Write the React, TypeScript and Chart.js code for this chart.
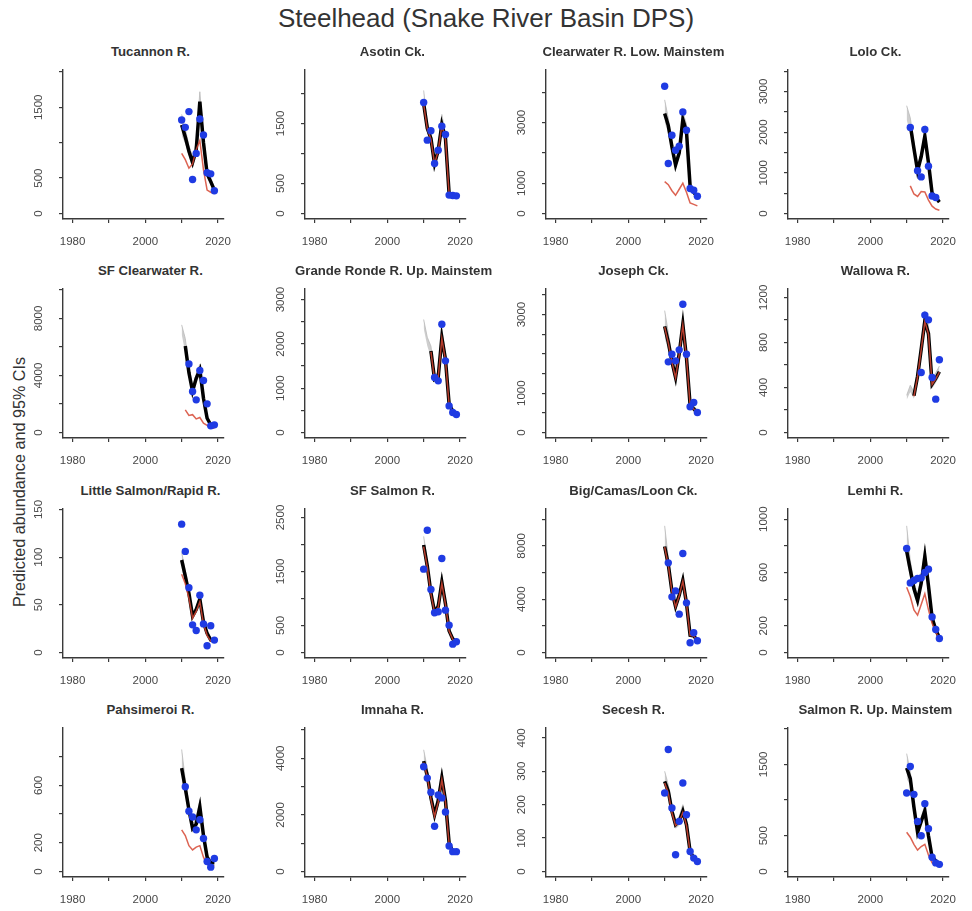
import React, { useEffect, useRef } from 'react';
import { Chart, registerables } from 'chart.js';

Chart.register(...registerables);

const FONT = '"Liberation Sans", Arial, Helvetica, sans-serif';

// Shared x axis (return years)
const YEARS = [2010, 2011, 2012, 2013, 2014, 2015, 2016, 2017, 2018, 2019];
const X_TICKS = [1980, 1990, 2000, 2010, 2020];
const X_LABELS = ['1980', '', '2000', '', '2020'];
const X_MIN = 1977.36;
const X_MAX = 2021.64;

// ---- Tucannon R.
const TUC_YTICKS = [0, 500, 1000, 1500, 2000];
const TUC_YLABELS = ['0', '500', '', '1500', ''];
const TUC_OBS = [1321, 1217, 1439, 481, 849, 1335, 1108, 575, 560, 321];
const TUC_FIT = [1250, 1080, 880, 720, 900, 1580, 1000, 560, 450, 330];
const TUC_LO = [1100, 980, 800, 640, 800, 1400, 900, 500, 400, 290];
const TUC_HI = [1400, 1200, 960, 800, 1000, 1720, 1100, 620, 500, 370];
const TUC_RED = [850, 760, 640, 700, 900, 1030, 620, 330, 300, 280];

// ---- Asotin Ck.
const ASO_YTICKS = [0, 500, 1000, 1500, 2000];
const ASO_YLABELS = ['0', '500', '', '1500', ''];
const ASO_OBS = [1850, 1222, 1378, 833, 1055, 1455, 1317, 306, 300, 294];
const ASO_FIT = [1830, 1420, 1250, 830, 1050, 1480, 1250, 330, 310, 300];
const ASO_LO = [1680, 1330, 1170, 770, 980, 1380, 1170, 300, 285, 275];
const ASO_HI = [2050, 1520, 1330, 900, 1120, 1650, 1330, 360, 335, 325];
const ASO_RED = [1820, 1410, 1240, 825, 1045, 1470, 1240, 325, 305, 295];

// ---- Clearwater R. Low. Mainstem
const CLW_YTICKS = [0, 1000, 2000, 3000, 4000];
const CLW_YLABELS = ['0', '1000', '', '3000', ''];
const CLW_OBS = [4198, 1648, 2582, 2088, 2220, 3352, 2747, 824, 769, 571];
const CLW_FIT = [3300, 2900, 2200, 1600, 2000, 3100, 2700, 900, 700, 550];
const CLW_LO = [3000, 2650, 2000, 1450, 1850, 2850, 2450, 800, 620, 480];
const CLW_HI = [3750, 3150, 2400, 1750, 2150, 3350, 2950, 1000, 780, 620];
const CLW_RED = [1050, 950, 750, 600, 800, 1000, 700, 350, 300, 250];

// ---- Lolo Ck.
const LOL_YTICKS = [0, 500, 1000, 1500, 2000, 2500, 3000, 3500];
const LOL_YLABELS = ['0', '', '1000', '', '2000', '', '3000', ''];
const LOL_OBS = [null, 2115, null, 1050, 900, 2065, 1164, 430, 393, null];
const LOL_FIT = [null, 2170, 1600, 1050, 1400, 1900, 1250, 500, 400, 280];
const LOL_LO = [2300, 2000, 1450, 950, 1300, 1750, 1150, 450, 360, 250];
const LOL_HI = [2650, 2350, 1750, 1150, 1500, 2050, 1350, 560, 450, 320];
const LOL_RED = [null, 680, 480, 420, 540, 530, 330, 180, 110, 80];

// ---- SF Clearwater R.
const SFC_YTICKS = [0, 2000, 4000, 6000, 8000, 10000];
const SFC_YLABELS = ['0', '', '4000', '', '8000', ''];
const SFC_OBS = [null, null, 4813, 2874, 2290, 4346, 3645, 2009, 467, 537];
const SFC_FIT = [null, 6075, 4200, 2900, 3800, 4400, 2400, 1000, 540, 520];
const SFC_LO = [6900, 5600, 3800, 2600, 3500, 4000, 2100, 850, 450, 430];
const SFC_HI = [7550, 6600, 4600, 3200, 4100, 4800, 2700, 1200, 650, 620];
const SFC_RED = [null, 1590, 1200, 1250, 950, 1050, 650, 500, 300, 300];

// ---- Grande Ronde R. Up. Mainstem
const GRU_YTICKS = [0, 500, 1000, 1500, 2000, 2500, 3000];
const GRU_YLABELS = ['0', '', '1000', '', '2000', '', '3000'];
const GRU_OBS = [null, null, null, 1240, 1165, 2444, 1617, 600, 451, 406];
const GRU_FIT = [null, null, 1840, 1200, 1250, 2140, 1650, 640, 480, 410];
const GRU_LO = [2350, 1950, 1700, 1120, 1170, 1950, 1530, 570, 420, 360];
const GRU_HI = [2550, 2150, 1950, 1300, 1350, 2350, 1770, 700, 540, 460];
const GRU_RED = [null, null, 1820, 1190, 1240, 2120, 1630, 630, 470, 400];

// ---- Joseph Ck.
const JOS_YTICKS = [0, 500, 1000, 1500, 2000, 2500, 3000, 3500];
const JOS_YLABELS = ['0', '', '1000', '', '', '', '3000', ''];
const JOS_OBS = [null, 1797, 1992, 1822, 2102, 3263, 1992, 653, 763, 508];
const JOS_FIT = [2700, 2300, 1800, 1400, 2000, 2750, 1900, 700, 600, 500];
const JOS_LO = [2400, 2100, 1650, 1250, 1850, 2550, 1750, 630, 530, 440];
const JOS_HI = [3100, 2550, 1950, 1550, 2150, 2950, 2050, 780, 680, 570];
const JOS_RED = [2680, 2280, 1790, 1390, 1990, 2730, 1890, 695, 595, 495];

// ---- Wallowa R.
const WAL_YTICKS = [0, 200, 400, 600, 800, 1000, 1200];
const WAL_YLABELS = ['0', '', '400', '', '800', '', '1200'];
const WAL_OBS = [null, null, null, null, 533, 1043, 1001, 489, 296, 646];
const WAL_FIT = [null, null, 326, 500, 740, 990, 880, 430, 480, 540];
const WAL_LO = [290, 360, 300, 460, 690, 920, 820, 390, 440, 500];
const WAL_HI = [330, 420, 360, 550, 800, 1080, 950, 480, 530, 590];
const WAL_RED = [null, null, 322, 495, 735, 985, 875, 427, 476, 536];

// ---- Little Salmon/Rapid R.
const LSR_YTICKS = [0, 50, 100, 150];
const LSR_YLABELS = ['0', '50', '100', '150'];
const LSR_OBS = [134.6, 106, 68, 29, 23, 60, 30, 7, 28, 13];
const LSR_FIT = [97, 80, 62, 38, 45, 56, 32, 20, 13, 12];
const LSR_LO = [88, 73, 57, 35, 42, 52, 29, 18, 11, 10];
const LSR_HI = [105, 86, 66, 41, 48, 60, 35, 22, 15, 14];
const LSR_RED = [82, 72, 57, 36, 43, 53, 30, 18, 12, 12];

// ---- SF Salmon R.
const SFS_YTICKS = [0, 500, 1000, 1500, 2000, 2500];
const SFS_YLABELS = ['0', '500', '', '1500', '', '2500'];
const SFS_OBS = [1543, 2265, 1167, 735, 753, 1741, 784, 506, 154, 198];
const SFS_FIT = [1990, 1600, 1100, 750, 850, 1300, 900, 400, 250, 200];
const SFS_LO = [1850, 1500, 1030, 700, 790, 1180, 830, 360, 215, 170];
const SFS_HI = [2150, 1700, 1180, 810, 920, 1450, 970, 450, 290, 235];
const SFS_RED = [1960, 1580, 1085, 740, 840, 1280, 890, 395, 245, 198];

// ---- Big/Camas/Loon Ck.
const BCL_YTICKS = [0, 2000, 4000, 6000, 8000, 10000];
const BCL_YLABELS = ['0', '', '4000', '', '8000', ''];
const BCL_OBS = [null, 6725, 4175, 4625, 2875, 7425, 3725, 725, 1475, 875];
const BCL_FIT = [7950, 6600, 4600, 3450, 4300, 5400, 3700, 1300, 1250, 900];
const BCL_LO = [7200, 6100, 4300, 3200, 4000, 5000, 3400, 1150, 1100, 780];
const BCL_HI = [9500, 7100, 4900, 3700, 4600, 5800, 4000, 1500, 1400, 1020];
const BCL_RED = [7900, 6550, 4560, 3420, 4260, 5350, 3660, 1280, 1230, 890];

// ---- Lemhi R.
const LEM_YTICKS = [0, 200, 400, 600, 800, 1000];
const LEM_YLABELS = ['0', '200', '', '600', '', '1000'];
const LEM_OBS = [780, 522, 540, 555, 560, 600, 625, 267, 172, 105];
const LEM_FIT = [760, 620, 480, 390, 520, 720, 500, 260, 170, 110];
const LEM_LO = [680, 560, 430, 350, 470, 650, 450, 230, 150, 95];
const LEM_HI = [950, 690, 530, 430, 570, 800, 550, 290, 190, 130];
const LEM_RED = [490, 420, 320, 280, 360, 440, 320, 220, 150, 110];

// ---- Pahsimeroi R.
const PAH_YTICKS = [0, 200, 400, 600, 800];
const PAH_YLABELS = ['0', '200', '', '600', ''];
const PAH_OBS = [null, 590, 420, 380, 290, 360, 230, 70, 30, 90];
const PAH_FIT = [720, 580, 430, 300, 330, 450, 250, 100, 60, 60];
const PAH_LO = [640, 530, 390, 270, 300, 410, 220, 85, 50, 50];
const PAH_HI = [850, 640, 470, 330, 370, 500, 280, 120, 75, 75];
const PAH_RED = [290, 250, 180, 150, 170, 180, 100, 50, 40, 40];

// ---- Imnaha R.
const IMN_YTICKS = [0, 1000, 2000, 3000, 4000, 5000];
const IMN_YLABELS = ['0', '', '2000', '', '4000', ''];
const IMN_OBS = [3700, 3300, 2800, 1600, 2700, 2600, 2100, 900, 700, 700];
const IMN_FIT = [3900, 3400, 2600, 2000, 2500, 3300, 2500, 1000, 700, 700];
const IMN_LO = [3550, 3150, 2400, 1850, 2300, 3050, 2300, 900, 630, 630];
const IMN_HI = [4300, 3650, 2800, 2150, 2700, 3600, 2700, 1100, 780, 780];
const IMN_RED = [3850, 3350, 2550, 1950, 2450, 3250, 2450, 980, 690, 690];

// ---- Secesh R.
const SEC_YTICKS = [0, 100, 200, 300, 400];
const SEC_YLABELS = ['0', '100', '200', '300', '400'];
const SEC_OBS = [235, 365, 190, 50, 150, 265, 170, 60, 40, 30];
const SEC_FIT = [270, 240, 180, 140, 150, 180, 140, 60, 40, 30];
const SEC_LO = [245, 220, 165, 128, 137, 165, 128, 53, 35, 26];
const SEC_HI = [300, 260, 195, 152, 165, 200, 155, 68, 46, 35];
const SEC_RED = [265, 235, 175, 138, 148, 177, 138, 58, 39, 29];

// ---- Salmon R. Up. Mainstem
const SUM_YTICKS = [0, 500, 1000, 1500, 2000];
const SUM_YLABELS = ['0', '500', '', '1500', ''];
const SUM_OBS = [1100, 1470, 1080, 700, 500, 950, 600, 200, 120, 100];
const SUM_FIT = [1450, 1300, 900, 550, 700, 850, 500, 200, 150, 110];
const SUM_LO = [1300, 1200, 840, 510, 650, 790, 460, 180, 135, 100];
const SUM_HI = [1650, 1400, 970, 600, 760, 930, 550, 230, 170, 125];
const SUM_RED = [550, 480, 380, 300, 350, 380, 230, 120, 100, 100];

const PANELS = [
  { title: 'Tucannon R.', yMax: 1949, yTicks: TUC_YTICKS, yLabels: TUC_YLABELS, obs: TUC_OBS, fit: TUC_FIT, lo: TUC_LO, hi: TUC_HI, red: TUC_RED },
  { title: 'Asotin Ck.', yMax: 2299, yTicks: ASO_YTICKS, yLabels: ASO_YLABELS, obs: ASO_OBS, fit: ASO_FIT, lo: ASO_LO, hi: ASO_HI, red: ASO_RED },
  { title: 'Clearwater R. Low. Mainstem', yMax: 4553, yTicks: CLW_YTICKS, yLabels: CLW_YLABELS, obs: CLW_OBS, fit: CLW_FIT, lo: CLW_LO, hi: CLW_HI, red: CLW_RED },
  { title: 'Lolo Ck.', yMax: 3392, yTicks: LOL_YTICKS, yLabels: LOL_YLABELS, obs: LOL_OBS, fit: LOL_FIT, lo: LOL_LO, hi: LOL_HI, red: LOL_RED },
  { title: 'SF Clearwater R.', yMax: 9681, yTicks: SFC_YTICKS, yLabels: SFC_YLABELS, obs: SFC_OBS, fit: SFC_FIT, lo: SFC_LO, hi: SFC_HI, red: SFC_RED },
  { title: 'Grande Ronde R. Up. Mainstem', yMax: 3114, yTicks: GRU_YTICKS, yLabels: GRU_YLABELS, obs: GRU_OBS, fit: GRU_FIT, lo: GRU_LO, hi: GRU_HI, red: GRU_RED },
  { title: 'Joseph Ck.', yMax: 3510, yTicks: JOS_YTICKS, yLabels: JOS_YLABELS, obs: JOS_OBS, fit: JOS_FIT, lo: JOS_LO, hi: JOS_HI, red: JOS_RED },
  { title: 'Wallowa R.', yMax: 1226, yTicks: WAL_YTICKS, yLabels: WAL_YLABELS, obs: WAL_OBS, fit: WAL_FIT, lo: WAL_LO, hi: WAL_HI, red: WAL_RED },
  { title: 'Little Salmon/Rapid R.', yMax: 144.7, yTicks: LSR_YTICKS, yLabels: LSR_YLABELS, obs: LSR_OBS, fit: LSR_FIT, lo: LSR_LO, hi: LSR_HI, red: LSR_RED },
  { title: 'SF Salmon R.', yMax: 2555, yTicks: SFS_YTICKS, yLabels: SFS_YLABELS, obs: SFS_OBS, fit: SFS_FIT, lo: SFS_LO, hi: SFS_HI, red: SFS_RED },
  { title: 'Big/Camas/Loon Ck.', yMax: 10350, yTicks: BCL_YTICKS, yLabels: BCL_YLABELS, obs: BCL_OBS, fit: BCL_FIT, lo: BCL_LO, hi: BCL_HI, red: BCL_RED },
  { title: 'Lemhi R.', yMax: 1035, yTicks: LEM_YTICKS, yLabels: LEM_YLABELS, obs: LEM_OBS, fit: LEM_FIT, lo: LEM_LO, hi: LEM_HI, red: LEM_RED },
  { title: 'Pahsimeroi R.', yMax: 961, yTicks: PAH_YTICKS, yLabels: PAH_YLABELS, obs: PAH_OBS, fit: PAH_FIT, lo: PAH_LO, hi: PAH_HI, red: PAH_RED },
  { title: 'Imnaha R.', yMax: 4875, yTicks: IMN_YTICKS, yLabels: IMN_YLABELS, obs: IMN_OBS, fit: IMN_FIT, lo: IMN_LO, hi: IMN_HI, red: IMN_RED },
  { title: 'Secesh R.', yMax: 413, yTicks: SEC_YTICKS, yLabels: SEC_YLABELS, obs: SEC_OBS, fit: SEC_FIT, lo: SEC_LO, hi: SEC_HI, red: SEC_RED },
  { title: 'Salmon R. Up. Mainstem', yMax: 1932, yTicks: SUM_YTICKS, yLabels: SUM_YLABELS, obs: SUM_OBS, fit: SUM_FIT, lo: SUM_LO, hi: SUM_HI, red: SUM_RED },
];

// Panel grid geometry
const PANEL_W = 243;
const PANEL_H = 219;
const COL_STEP = 241.7;
const ROW_STEP = 219.4;
const GRID_TOP = 35;
const AXIS_LEFT = 63;
const PLOT_TOP = 35;
const X_AXIS_H = 35;
const PAD_RIGHT = 5.2;
const PLOT_W = PANEL_W - AXIS_LEFT - PAD_RIGHT;

const AXIS_COLOR = '#3a3a3a';
const TICK_TEXT = '#474747';

type PanelSpec = (typeof PANELS)[number];

function series(arr: (number | null)[]) {
  return YEARS.map((x, i) => ({ x, y: arr[i] }));
}

function points(arr: (number | null)[]) {
  return YEARS.map((x, i) => ({ x, y: arr[i] })).filter((p) => p.y !== null);
}

function Panel({ spec, left, top }: { spec: PanelSpec; left: number; top: number }) {
  const ref = useRef<HTMLCanvasElement>(null);

  useEffect(() => {
    if (!ref.current) return;

    // Vertical tick text on the value axis, parallel to the axis line
    const yTickText = {
      id: 'yTickText',
      afterDraw(chart: any) {
        const ys = chart.scales.y;
        const ctx = chart.ctx;
        const x = chart.chartArea.left - 24;
        ctx.save();
        ctx.font = `11.5px ${FONT}`;
        ctx.fillStyle = TICK_TEXT;
        ctx.textAlign = 'center';
        ctx.textBaseline = 'middle';
        spec.yTicks.forEach((v: number, i: number) => {
          const t = spec.yLabels[i];
          if (!t) return;
          ctx.save();
          ctx.translate(x, ys.getPixelForValue(v));
          ctx.rotate(-Math.PI / 2);
          ctx.fillText(t, 0, 0);
          ctx.restore();
        });
        ctx.restore();
      },
    };

    const chart = new Chart(ref.current, {
      type: 'line',
      data: {
        datasets: [
          {
            label: 'lower',
            data: series(spec.lo),
            borderWidth: 0,
            borderColor: 'rgba(0,0,0,0)',
            pointRadius: 0,
            fill: false,
            order: 4,
          },
          {
            label: 'upper',
            data: series(spec.hi),
            borderWidth: 1,
            borderColor: 'rgba(185,185,185,0.8)',
            backgroundColor: 'rgba(190,190,190,0.75)',
            pointRadius: 0,
            fill: '-1',
            order: 3,
          },
          {
            label: 'predicted',
            data: series(spec.fit),
            borderColor: '#000000',
            borderWidth: 3.5,
            pointRadius: 0,
            fill: false,
            order: 2,
          },
          {
            label: 'natural',
            data: series(spec.red),
            borderColor: 'rgba(214,72,52,0.85)',
            borderWidth: 1.5,
            pointRadius: 0,
            fill: false,
            order: 1,
          },
          {
            label: 'observed',
            data: points(spec.obs),
            showLine: false,
            pointRadius: 3.7,
            pointBackgroundColor: '#1f3be3',
            pointBorderWidth: 0,
            order: 0,
          },
        ],
      },
      options: {
        animation: false,
        responsive: false,
        events: [],
        layout: { padding: { top: PLOT_TOP, right: PAD_RIGHT, left: 0, bottom: 0 } },
        plugins: {
          legend: { display: false },
          tooltip: { enabled: false },
          title: { display: false },
        },
        scales: {
          x: {
            type: 'linear',
            min: X_MIN,
            max: X_MAX,
            afterFit: (s: any) => {
              s.height = X_AXIS_H;
            },
            afterBuildTicks: (s: any) => {
              s.ticks = X_TICKS.map((value) => ({ value }));
            },
            ticks: {
              autoSkip: false,
              maxRotation: 0,
              minRotation: 0,
              padding: 12,
              color: TICK_TEXT,
              font: { family: FONT, size: 11.5 },
              callback: (_v: any, i: number) => X_LABELS[i],
            },
            grid: {
              display: true,
              drawOnChartArea: false,
              drawTicks: true,
              tickLength: 4,
              color: AXIS_COLOR,
              lineWidth: 1.2,
            },
            border: { display: true, color: AXIS_COLOR, width: 1.4 },
          },
          y: {
            type: 'linear',
            min: -0.04 * spec.yMax,
            max: 1.04 * spec.yMax,
            afterFit: (s: any) => {
              s.width = AXIS_LEFT;
            },
            afterBuildTicks: (s: any) => {
              s.ticks = spec.yTicks.map((value: number) => ({ value }));
            },
            ticks: { display: false },
            grid: {
              display: true,
              drawOnChartArea: false,
              drawTicks: true,
              tickLength: 4,
              color: AXIS_COLOR,
              lineWidth: 1.2,
            },
            border: { display: true, color: AXIS_COLOR, width: 1.4 },
          },
        },
      },
      plugins: [yTickText],
    } as any);

    return () => chart.destroy();
  }, [spec]);

  return (
    <div style={{ position: 'absolute', left, top, width: PANEL_W, height: PANEL_H }}>
      <div
        style={{
          position: 'absolute',
          left: AXIS_LEFT - 10,
          top: 8,
          width: PLOT_W + 20,
          height: 18,
          lineHeight: '18px',
          textAlign: 'center',
          fontFamily: FONT,
          fontWeight: 'bold',
          fontSize: 13.2,
          color: '#333',
          whiteSpace: 'nowrap',
        }}
      >
        {spec.title}
      </div>
      <canvas
        ref={ref}
        width={PANEL_W}
        height={PANEL_H}
        style={{ position: 'absolute', left: 0, top: 0, width: PANEL_W, height: PANEL_H }}
      />
    </div>
  );
}

export default function App() {
  return (
    <div
      style={{
        position: 'fixed',
        left: 0,
        top: 0,
        width: 972,
        height: 911,
        background: '#ffffff',
        overflow: 'hidden',
      }}
    >
      <div
        style={{
          position: 'absolute',
          left: 0,
          top: 3,
          width: 972,
          height: 30,
          lineHeight: '30px',
          textAlign: 'center',
          fontFamily: FONT,
          fontSize: 26,
          color: '#333',
        }}
      >
        Steelhead (Snake River Basin DPS)
      </div>
      <div
        style={{
          position: 'absolute',
          left: 19 - 200,
          top: 482 - 12,
          width: 400,
          height: 24,
          lineHeight: '24px',
          textAlign: 'center',
          fontFamily: FONT,
          fontSize: 16.2,
          color: '#333',
          transform: 'rotate(-90deg)',
          transformOrigin: 'center center',
          whiteSpace: 'nowrap',
        }}
      >
        Predicted abundance and 95% CIs
      </div>
      {PANELS.map((spec, i) => {
        const col = i % 4;
        const row = Math.floor(i / 4);
        return (
          <Panel
            key={spec.title}
            spec={spec}
            left={Math.round(col * COL_STEP)}
            top={Math.round(GRID_TOP + row * ROW_STEP)}
          />
        );
      })}
    </div>
  );
}
